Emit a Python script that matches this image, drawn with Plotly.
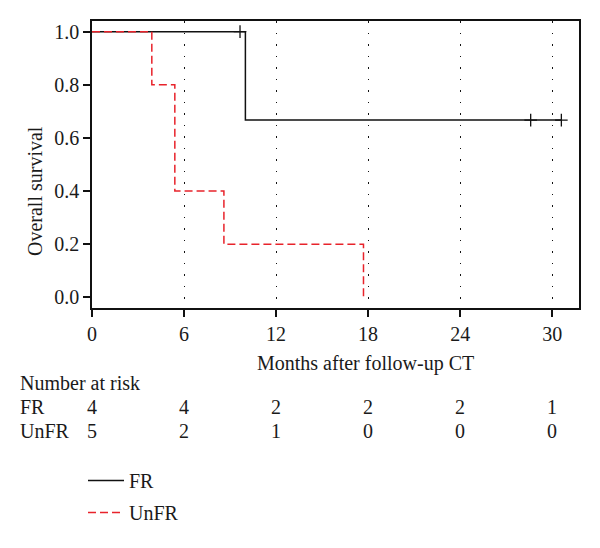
import plotly.graph_objects as go

# ---- data ----
fr_time = [0, 10.0, 30.6]
fr_surv = [1.0, 0.667, 0.667]
fr_cens_time = [9.65, 28.6, 30.6]
fr_cens_surv = [1.0, 0.667, 0.667]

unfr_time = [0, 3.9, 5.4, 8.6, 17.7]
unfr_surv = [1.0, 0.8, 0.4, 0.2, 0.0]

risk_times = [0, 6, 12, 18, 24, 30]
risk_fr = [4, 4, 2, 2, 2, 1]
risk_unfr = [5, 2, 1, 0, 0, 0]

x_ticks = [0, 6, 12, 18, 24, 30]
y_ticks = [0.0, 0.2, 0.4, 0.6, 0.8, 1.0]
y_ticklabels = ["0.0", "0.2", "0.4", "0.6", "0.8", "1.0"]

FONT = "Liberation Serif"
FS = 20
TXT = "#1a1a1a"
RED = "#e8232b"

OFF = 8  # default page body margin
W, H = 600 - OFF, 548 - OFF
# target plot area in page pixels: x 92..579, y 21..308
ML, MT = 92 - OFF, 21 - OFF
MR = W - (579 - OFF)
MB = H - (308 - OFF)
PW = W - ML - MR
PH = H - MT - MB
XMAX = 31.75


def py(pix):
    """page pixel y -> paper y"""
    return ((308) - pix) / PH


def px(pix):
    """page pixel x -> paper x"""
    return (pix - 92) / PW


fig = go.Figure()
fig.add_trace(go.Scatter(x=fr_time, y=fr_surv, mode="lines", line_shape="hv",
                         line=dict(color="#111111", width=1.5), name="FR"))
fig.add_trace(go.Scatter(x=unfr_time, y=unfr_surv, mode="lines", line_shape="hv",
                         line=dict(color=RED, width=1.5, dash="8px,4px"), name="UnFR"))
fig.add_trace(go.Scatter(x=fr_cens_time, y=fr_cens_surv, mode="markers",
                         marker=dict(symbol="cross-thin-open", size=9, color="#111111",
                                     line=dict(color="#111111", width=1.3)),
                         showlegend=False, hoverinfo="skip"))

annotations = []
annotations.append(dict(text="Months after follow-up CT", xref="paper", yref="paper",
                        x=px(365), y=py(363),
                        showarrow=False, font=dict(family=FONT, size=FS, color=TXT),
                        xanchor="center", yanchor="middle"))
annotations.append(dict(text="Overall survival", xref="paper", yref="paper",
                        x=px(35), y=py(191),
                        textangle=-90, showarrow=False,
                        font=dict(family=FONT, size=FS, color=TXT),
                        xanchor="center", yanchor="middle"))
annotations.append(dict(text="Number at risk", xref="paper", yref="paper",
                        x=px(18), y=py(383), showarrow=False,
                        xanchor="left", yanchor="middle",
                        font=dict(family=FONT, size=FS, color=TXT)))
for label, vals, ypix in [("FR", risk_fr, 407), ("UnFR", risk_unfr, 431)]:
    annotations.append(dict(text=label, xref="paper", yref="paper",
                            x=px(18), y=py(ypix), showarrow=False,
                            xanchor="left", yanchor="middle",
                            font=dict(family=FONT, size=FS, color=TXT)))
    for t, v in zip(risk_times, vals):
        annotations.append(dict(text=str(v), xref="x", yref="paper", x=t, y=py(ypix),
                                showarrow=False, xanchor="center", yanchor="middle",
                                font=dict(family=FONT, size=FS, color=TXT)))

fig.update_layout(
    width=W, height=H,
    margin=dict(l=ML, r=MR, t=MT, b=MB, autoexpand=False),
    paper_bgcolor="white", plot_bgcolor="white",
    font=dict(family=FONT, size=FS, color=TXT),
    showlegend=True,
    legend=dict(x=px(83), y=py(461), xanchor="left", yanchor="top",
                font=dict(family=FONT, size=FS, color=TXT),
                bgcolor="rgba(0,0,0,0)", tracegroupgap=3, itemwidth=36),
    annotations=annotations,
    xaxis=dict(range=[0, XMAX], tickvals=x_ticks, ticks="outside", ticklen=7,
               tickwidth=1.5, tickcolor="#111111",
               showline=True, linecolor="#111111", linewidth=1.5, mirror=True,
               showgrid=True, gridcolor="#111111", gridwidth=1, griddash="1.5px,10px",
               zeroline=False, tickfont=dict(family=FONT, size=FS, color=TXT)),
    yaxis=dict(range=[-0.04, 1.04], tickvals=y_ticks, ticktext=y_ticklabels,
               ticks="outside", ticklen=7, tickwidth=1.5, tickcolor="#111111",
               showline=True, linecolor="#111111", linewidth=1.5, mirror=True,
               showgrid=False, zeroline=False,
               tickfont=dict(family=FONT, size=FS, color=TXT)),
)
fig.data[0].legendgroup = "a"
fig.data[1].legendgroup = "b"

fig.write_html("out.html")
